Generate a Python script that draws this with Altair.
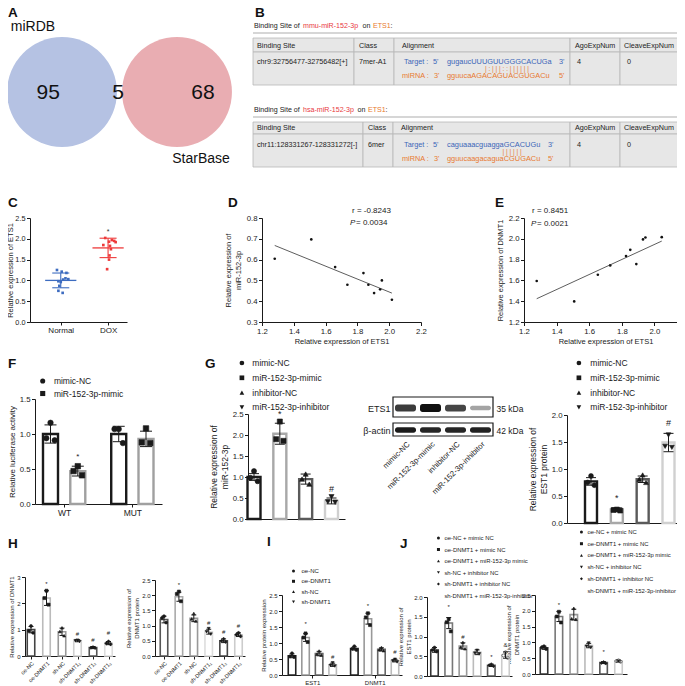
import altair as alt
import pandas as pd

# ------------------------------------------------------------------ data
venn_sets = ["miRDB", "StarBase"]
venn_counts = [95, 5, 68]          # miRDB only, shared, StarBase only

b_mirnas = ["mmu-miR-152-3p", "hsa-miR-152-3p"]
b_gene = "ETS1"
b_headers = ["Binding Site", "Class", "Alignment", "AgoExpNum", "CleaveExpNum"]
b_sites = ["chr9:32756477-32756482[+]", "chr11:128331267-128331272[-]"]
b_classes = ["7mer-A1", "6mer"]
b_targets = ["gugaucUUUGUUGGGCACUGa", "caguaaacguaggaGCACUGu"]
b_mirseqs = ["gguucaAGACAGUACGUGACu", "gguucaagacaguaCGUGACu"]
b_pairs = ["|  :  |  |  |  :  :      |  |  |  |  |  |", "|  |  |  |  |  |"]
b_ago = ["4", "4"]
b_cleave = ["0", "0"]

c_groups = ["Normal", "DOX"]
c_normal = [1.25, 1.21, 1.18, 1.05, 1.03, 1.02, 0.98, 0.96, 0.87, 0.75, 0.70]
c_normal_dx = [-0.08, 0.02, 0.12, 0.10, 0.16, 0.05, -0.05, 0.0, -0.03, -0.05, 0.04]
c_dox = [2.02, 1.97, 1.95, 1.93, 1.92, 1.85, 1.83, 1.75, 1.60, 1.50, 1.27]
c_dox_dx = [-0.06, 0.08, 0.13, 0.02, 0.16, -0.10, 0.04, 0.06, 0.03, 0.02, -0.02]
c_sig = ["", "*"]
c_sig_y = [0, 2.17]

d_ets1 = [1.28, 1.51, 1.66, 1.737, 1.838, 1.869, 1.905, 1.943, 1.954, 2.017]
d_mir = [0.604, 0.697, 0.564, 0.479, 0.535, 0.479, 0.439, 0.457, 0.500, 0.407]
d_fit_x = [1.28, 2.017]
d_fit_y = [0.668, 0.439]
d_stats = ["r = -0.8243", "= 0.0034"]

e_ets1 = [1.278, 1.508, 1.653, 1.729, 1.826, 1.852, 1.889, 1.930, 1.945, 2.045]
e_dnmt1 = [1.594, 1.398, 1.654, 1.744, 1.834, 1.894, 1.757, 1.994, 2.013, 2.016]
e_fit_x = [1.278, 2.045]
e_fit_y = [1.424, 1.978]
e_stats = ["r = 0.8451", "= 0.0021"]

f_series = ["mimic-NC", "miR-152-3p-mimic"]
f_groups = ["WT", "MUT"]
f_means = [1.00, 0.47, 1.00, 0.93]
f_sds = [0.13, 0.07, 0.11, 0.11]
f_points = [[1.16, 0.94, 0.91], [0.54, 0.47, 0.41], [1.07, 1.07, 0.87], [1.08, 0.88, 0.87]]
f_sig = ["", "*", "", ""]
f_sig_y = [0, 0.67, 0, 0]

g_series = ["mimic-NC", "miR-152-3p-mimic", "inhibitor-NC", "miR-152-3p-inhibitor"]
g1_means = [1.00, 2.03, 0.95, 0.43]
g1_sds = [0.08, 0.25, 0.12, 0.07]
g1_points = [[1.14, 0.98, 0.90], [2.32, 1.90, 1.86], [1.07, 0.95, 0.83], [0.53, 0.41, 0.40]]
g1_sig = ["", "*", "", "#"]
g1_sig_y = [0, 2.50, 0, 0.71]
g2_means = [0.77, 0.25, 0.81, 1.49]
g2_sds = [0.07, 0.03, 0.06, 0.17]
g2_points = [[0.87, 0.75, 0.70], [0.25, 0.24, 0.23], [0.89, 0.81, 0.75], [1.63, 1.42, 1.40]]
g2_sig = ["", "*", "", "#"]
g2_sig_y = [0, 0.46, 0, 1.85]

blot_lanes = ["mimic-NC", "miR-152-3p-mimic", "inhibitor-NC", "miR-152-3p-inhibitor"]
blot_proteins = ["ETS1", "β-actin"]
blot_kda = ["35 kDa", "42 kDa"]
blot_ets1 = [0.80, 1.00, 0.75, 0.30]
blot_actin = [0.95, 0.90, 0.90, 0.92]

h_groups = ["oe-NC", "oe-DNMT1", "sh-NC", "sh-DNMT1₁", "sh-DNMT1₂", "sh-DNMT1₃"]
h1_means = [1.00, 2.20, 0.92, 0.58, 0.32, 0.49]
h1_sds = [0.12, 0.28, 0.14, 0.04, 0.04, 0.06]
h1_points = [[1.14, 0.95, 0.88], [2.48, 2.20, 1.95], [1.07, 0.93, 0.77],
             [0.60, 0.58, 0.55], [0.34, 0.31, 0.30], [0.55, 0.48, 0.45]]
h1_sig = ["", "*", "", "#", "#", "#"]
h1_sig_y = [0, 2.72, 0, 0.84, 0.60, 0.87]
h2_means = [1.20, 1.95, 1.24, 0.80, 0.50, 0.70]
h2_sds = [0.11, 0.15, 0.11, 0.08, 0.06, 0.06]
h2_points = [[1.31, 1.25, 1.10], [2.12, 2.04, 1.80], [1.40, 1.22, 1.15],
             [0.90, 0.80, 0.72], [0.57, 0.50, 0.46], [0.76, 0.70, 0.65]]
h2_sig = ["", "*", "", "#", "#", "#"]
h2_sig_y = [0, 2.33, 0, 1.07, 0.80, 1.00]

i_series = ["oe-NC", "oe-DNMT1", "sh-NC", "sh-DNMT1"]
i_genes = ["EST1", "DNMT1"]
i_means = [0.60, 1.17, 0.67, 0.32, 0.83, 1.76, 0.80, 0.45]
i_sds = [0.06, 0.12, 0.07, 0.05, 0.05, 0.17, 0.05, 0.04]
i_points = [[0.68, 0.58, 0.56], [1.30, 1.17, 1.03], [0.75, 0.65, 0.62], [0.38, 0.30, 0.28],
            [0.90, 0.82, 0.78], [1.93, 1.80, 1.56], [0.86, 0.79, 0.76], [0.49, 0.44, 0.41]]
i_sig = ["", "*", "", "#", "", "*", "", "#"]
i_sig_y = [0, 1.60, 0, 0.55, 0, 2.15, 0, 0.73]

j_series = ["oe-NC + mimic NC", "oe-DNMT1 + mimic NC", "oe-DNMT1 + miR-152-3p mimic",
            "sh-NC + inhibitor NC", "sh-DNMT1 + inhibitor NC", "sh-DNMT1 + miR-152-3p-inhibitor"]
j1_means = [0.66, 1.34, 0.76, 0.60, 0.27, 0.53]
j1_sds = [0.06, 0.14, 0.08, 0.06, 0.03, 0.08]
j1_points = [[0.72, 0.66, 0.62], [1.44, 1.36, 1.13], [0.85, 0.73, 0.69],
             [0.65, 0.58, 0.56], [0.30, 0.27, 0.25], [0.60, 0.52, 0.46]]
j1_sig = ["", "*", "#", "", "*", "&"]
j1_sig_y = [0, 1.74, 1.00, 0, 0.47, 0.78]
j2_means = [0.83, 1.82, 1.88, 0.90, 0.36, 0.41]
j2_sds = [0.05, 0.16, 0.17, 0.07, 0.03, 0.03]
j2_points = [[0.88, 0.85, 0.79], [1.97, 1.82, 1.63], [2.08, 1.75, 1.73],
             [0.98, 0.88, 0.84], [0.38, 0.35, 0.33], [0.43, 0.41, 0.39]]
j2_sig = ["", "*", "", "", "*", ""]
j2_sig_y = [0, 2.19, 0, 0, 0.70, 0]

# ------------------------------------------------------------------ layout helpers
W, H = 669, 678
O = 8
FONT = "Liberation Sans"
INK = "#1a1a1a"
RED = "#e8393f"
ORANGE = "#e87a30"
BLUE = "#3b66b8"


def PX(v):
    return v - O


def PY(v):
    return v - O


layers = []


def sx(dom, a, b):
    return alt.Scale(domain=[float(d) for d in dom], range=[PX(a), PX(b)], nice=False, zero=False)


def sy(dom, bot, top):
    return alt.Scale(domain=[float(d) for d in dom], range=[PY(bot), PY(top)], nice=False, zero=False)


AXC = dict(grid=False, domainColor=INK, tickColor=INK, labelColor=INK, titleColor=INK,
           labelFont=FONT, titleFont=FONT, titleFontWeight="normal", domainWidth=1,
           tickWidth=1, labelFlush=False, labelOverlap=False)


def label_expr(vals, labels):
    expr = "''"
    for v, l in reversed(list(zip(vals, labels))):
        expr = f"(abs(datum.value - {v}) < 0.001) ? '{l}' : ({expr})"
    return expr


def y_axis(xpos, values, fmt, title, lfs, tfs, tick=3.5, tpad=3, orient="left",
           labels=None, show_ticks=True, domain=True, lpad=1.5):
    off = -PX(xpos) if orient == "left" else PX(xpos) - W
    kw = dict(orient=orient, offset=off, values=values, title=title,
              labelFontSize=lfs, titleFontSize=tfs, tickSize=tick, labelPadding=lpad,
              titlePadding=tpad, ticks=show_ticks, domain=domain, **AXC)
    if fmt:
        kw["format"] = fmt
    if labels is not None:
        kw["labelExpr"] = label_expr(values, labels)
    return alt.Axis(**kw)


def x_axis(ypos, values=None, labels=None, fmt=None, title=None, lfs=7, tfs=7, angle=0,
           tick=3.5, show_ticks=True, show_labels=True, domain=True, lpad=1.5, tpad=2):
    kw = dict(orient="bottom", offset=PY(ypos) - H, title=title, labelFontSize=lfs,
              titleFontSize=tfs, tickSize=tick, labelPadding=lpad, titlePadding=tpad,
              ticks=show_ticks, labels=show_labels, domain=domain, labelAngle=angle, **AXC)
    if values is not None:
        kw["values"] = values
    if labels is not None:
        kw["labelExpr"] = label_expr(values, labels)
    if fmt:
        kw["format"] = fmt
    if angle != 0:
        kw.update(labelAlign="right", labelBaseline="top")
    return alt.Axis(**kw)


def text_layer(items, size, color=INK, align="left", weight="normal", style="normal",
               baseline="middle"):
    df = pd.DataFrame(items, columns=["t", "x", "y"])
    df["x"] = df["x"].map(PX)
    df["y"] = df["y"].map(PY)
    return alt.Chart(df).mark_text(font=FONT, fontSize=size, color=color, align=align,
                                   baseline=baseline, fontWeight=weight, fontStyle=style).encode(
        x=alt.X("x:Q", scale=None, axis=None), y=alt.Y("y:Q", scale=None, axis=None), text="t:N")


def make_legend(mx, y0, step, fs, ssize, tx, fill=True):
    d = ssize ** 0.5
    entry = max(d, fs)
    kw = dict(title=None, orient="none", direction="vertical",
              legendX=PX(mx) - d / 2, legendY=PY(y0) - entry / 2,
              labelFontSize=fs, labelFont=FONT, labelColor=INK,
              symbolSize=ssize, rowPadding=max(step - entry, 0),
              labelOffset=max(tx - mx - d / 2 - 3.5, 0), padding=0,
              symbolStrokeColor=INK, symbolStrokeWidth=0.6, labelLimit=300)
    if fill:
        kw["symbolFillColor"] = INK
    return alt.Legend(**kw)


def bar_panel(xr, ybot, ytop, ymax, yticks, yfmt, slots, c_first, c_last, bar_px,
              means, sds, pts, colors, series, leg_dom, leg_shapes, sig, sig_y,
              ytitle, lfs, tfs, sw, psize, cap_px, sig_fs, leg=None, leg_fills=None,
              xticks=None, xlabels=None, xangle=0, xlfs=6, tpad=3):
    x0, x1 = xr
    unit = (c_last - c_first) / (slots[-1] - slots[0])
    dom = [slots[0] - (c_first - x0) / unit, slots[-1] + (x1 - c_last) / unit]
    xs = sx(dom, x0, x1)
    ys = sy([0, ymax], ybot, ytop)
    hw = bar_px / 2 / unit
    cw = cap_px / 2 / unit
    df = pd.DataFrame({"series": series, "pos": slots, "mean": means, "sd": sds,
                       "col": colors, "sig": sig, "sy": sig_y})
    df["l"] = df["pos"] - hw
    df["r"] = df["pos"] + hw
    df["lo"] = df["mean"] - df["sd"]
    df["hi"] = df["mean"] + df["sd"]
    df["cl"] = df["pos"] - cw
    df["cr"] = df["pos"] + cw
    df["base"] = 0.0
    if xticks is None:
        xa = x_axis(ybot, show_ticks=False, show_labels=False)
    else:
        xa = x_axis(ybot, values=xticks, labels=xlabels, lfs=xlfs, angle=xangle, tick=3)
    ya = y_axis(x0, yticks, yfmt, ytitle, lfs, tfs, tpad=tpad)
    out = []
    out.append(alt.Chart(df).mark_bar(fill="white", strokeWidth=sw).encode(
        x=alt.X("l:Q", scale=xs, axis=xa), x2="r:Q",
        y=alt.Y("mean:Q", scale=ys, axis=ya), y2="base:Q",
        stroke=alt.Stroke("col:N", scale=None)))
    offs = [0.0, -0.28, 0.28]
    rows = []
    for s, p, vals in zip(series, slots, pts):
        for k, v in enumerate(vals):
            rows.append({"series": s, "x": p + offs[k % 3] * bar_px / unit, "v": v})
    pdf = pd.DataFrame(rows)
    enc = dict(x=alt.X("x:Q", scale=xs, axis=None), y=alt.Y("v:Q", scale=ys, axis=None),
               shape=alt.Shape("series:N", scale=alt.Scale(domain=leg_dom, range=leg_shapes),
                               legend=leg))
    if leg_fills:
        enc["fill"] = alt.Fill("series:N", scale=alt.Scale(domain=leg_dom, range=leg_fills),
                               legend=leg)
    out.append(alt.Chart(pdf).mark_point(filled=True, size=psize, color=INK, stroke=INK,
                                         strokeWidth=0.6, opacity=1).encode(**enc))
    out.append(alt.Chart(df).mark_rule(color=INK, strokeWidth=1).encode(
        x=alt.X("pos:Q", scale=xs, axis=None), y=alt.Y("lo:Q", scale=ys, axis=None), y2="hi:Q"))
    caps = pd.concat([df.assign(cy=df["lo"]), df.assign(cy=df["hi"])])
    out.append(alt.Chart(caps).mark_rule(color=INK, strokeWidth=1).encode(
        x=alt.X("cl:Q", scale=xs, axis=None), x2="cr:Q", y=alt.Y("cy:Q", scale=ys, axis=None)))
    out.append(alt.Chart(df).mark_text(fontSize=sig_fs, font=FONT, color=INK,
                                       baseline="middle").encode(
        x=alt.X("pos:Q", scale=xs, axis=None), y=alt.Y("sy:Q", scale=ys, axis=None),
        text="sig:N"))
    return out


# ------------------------------------------------------------------ A: Venn
vx = sx([0, 1], 62, 177)
venn_df = pd.DataFrame({"set": venn_sets, "pos": [0, 1], "op": [1.0, 0.72]})
layers.append(alt.Chart(venn_df).mark_circle(size=3.1416 * 62 ** 2).encode(
    x=alt.X("pos:Q", scale=vx, axis=None), y=alt.value(PY(92)),
    color=alt.Color("set:N", scale=alt.Scale(domain=venn_sets, range=["#b5c2e3", "#e08d94"]),
                    legend=None),
    opacity=alt.Opacity("op:Q", scale=None)))
venn_txt = pd.DataFrame({"t": [str(v) for v in venn_counts], "pos": [-0.12, 0.487, 1.226]})
layers.append(alt.Chart(venn_txt).mark_text(font=FONT, fontSize=21, color="#111").encode(
    x=alt.X("pos:Q", scale=vx, axis=None), y=alt.value(PY(93)), text="t:N"))
layers.append(text_layer([(venn_sets[0], 33, 27), (venn_sets[1], 201, 159)], 14, "#111",
                         align="center"))

# ------------------------------------------------------------------ B: tables
def table_cells(cols, top, hb, bot):
    rows = []
    for i in range(len(cols) - 1):
        rows.append(dict(x=PX(cols[i]), x2=PX(cols[i + 1]), y=PY(top), y2=PY(hb)))
        rows.append(dict(x=PX(cols[i]), x2=PX(cols[i + 1]), y=PY(hb), y2=PY(bot)))
    df = pd.DataFrame(rows)
    return alt.Chart(df).mark_rect(fill="#e7e7e7", stroke="#b8b8b8", strokeWidth=0.8).encode(
        x=alt.X("x:Q", scale=None, axis=None), x2="x2:Q",
        y=alt.Y("y:Q", scale=None, axis=None), y2="y2:Q")


rule_df = pd.DataFrame({"x": [PX(253), PX(253)], "x2": [PX(682), PX(682)], "y": [PY(33), PY(117)]})
layers.append(alt.Chart(rule_df).mark_rule(color="#d6d6d6", strokeWidth=2).encode(
    x=alt.X("x:Q", scale=None, axis=None), x2="x2:Q", y=alt.Y("y:Q", scale=None, axis=None)))

tables = [
    dict(cols=[253, 354, 394, 570, 620, 682], top=38, hb=52, bot=85, ty=26, hy=46,
         r1=62, r2=76, py=69, px=507, end=559, mir_x=303, on_x=362.5, gene_x=373, colon_x=390.5),
    dict(cols=[253, 363, 393, 570, 620, 682], top=122, hb=134, bot=167, ty=110, hy=128,
         r1=145, r2=159, py=152, px=512, end=548, mir_x=303, on_x=357.5, gene_x=368, colon_x=385.5),
]
black_items, red_items, orange_items, blue_items, head_items, small_items = [], [], [], [], [], []
for k, t in enumerate(tables):
    layers.append(table_cells(t["cols"], t["top"], t["hb"], t["bot"]))
    black_items += [("Binding Site of", 254, t["ty"]), ("on", t["on_x"], t["ty"]),
                    (":", t["colon_x"], t["ty"])]
    red_items.append((b_mirnas[k], t["mir_x"], t["ty"]))
    c = t["cols"]
    for h, x in zip(b_headers, [c[0] + 4, c[1] + 5, c[2] + 8, c[3] + 5, c[4] + 4]):
        head_items.append((h, x, t["hy"]))
    head_items += [(b_sites[k], c[0] + 4, t["r1"]), (b_classes[k], c[1] + 5, t["r1"]),
                   (b_ago[k], c[3] + 7, t["r1"]), (b_cleave[k], c[4] + 7, t["r1"])]
    blue_items += [("Target :", 404, t["r1"]), ("5'", 433, t["r1"]), ("3'", t["end"], t["r1"])]
    orange_items += [("miRNA :", 402, t["r2"]), ("3'", 434, t["r2"]), ("5'", t["end"], t["r2"])]
    small_items.append((b_pairs[k], t["px"], t["py"]))
layers.append(text_layer(black_items, 7.1, "#222"))
layers.append(text_layer(red_items, 7.1, RED))
layers.append(text_layer([(b_gene, t["gene_x"], t["ty"]) for t in tables], 7.1, ORANGE))
layers.append(text_layer(head_items, 7.2, "#222"))
layers.append(text_layer(blue_items, 7.3, BLUE))
layers.append(text_layer(orange_items, 7.3, ORANGE))
layers.append(text_layer([(b_targets[k], 447, t["r1"]) for k, t in enumerate(tables)], 7.4, BLUE))
layers.append(text_layer([(b_mirseqs[k], 447, t["r2"]) for k, t in enumerate(tables)], 7.4, ORANGE))
layers.append(text_layer(small_items, 6.5, ORANGE, align="center"))

# ------------------------------------------------------------------ C
cxs = sx([0.35, 2.4], 30, 127)
cys = sy([0, 2.5], 322, 218)
c_cols = ["#3d6cc0", "#ee3a3a"]
c_pts = pd.DataFrame({
    "g": [c_groups[0]] * len(c_normal) + [c_groups[1]] * len(c_dox),
    "x": [1 + d for d in c_normal_dx] + [2 + d for d in c_dox_dx],
    "v": c_normal + c_dox})
c_stat = c_pts.groupby("g", sort=False)["v"].agg(["mean", "std"]).reset_index()
c_stat["idx"] = [1.0, 2.0]
c_stat["lo"] = c_stat["mean"] - c_stat["std"]
c_stat["hi"] = c_stat["mean"] + c_stat["std"]
c_stat["ml"] = c_stat["idx"] - 0.33
c_stat["mr"] = c_stat["idx"] + 0.33
c_stat["cl"] = c_stat["idx"] - 0.18
c_stat["cr"] = c_stat["idx"] + 0.18
c_stat["sig"] = c_sig
c_stat["sy"] = c_sig_y
ccol = alt.Color("g:N", scale=alt.Scale(domain=c_groups, range=c_cols), legend=None)
layers.append(alt.Chart(c_pts).mark_square(size=7, opacity=1).encode(
    x=alt.X("x:Q", scale=cxs, axis=x_axis(322, values=[1, 2], labels=c_groups, lfs=8, tick=3)),
    y=alt.Y("v:Q", scale=cys, axis=y_axis(30, [0, 0.5, 1, 1.5, 2, 2.5], ".1f",
                                            "Relative expression of ETS1", 7.3, 7.5, tpad=0.5)),
    color=ccol))
layers.append(alt.Chart(c_stat).mark_rule(strokeWidth=1.3).encode(
    x=alt.X("ml:Q", scale=cxs, axis=None), x2="mr:Q", y=alt.Y("mean:Q", scale=cys, axis=None),
    color=ccol))
layers.append(alt.Chart(c_stat).mark_rule(strokeWidth=1.1).encode(
    x=alt.X("idx:Q", scale=cxs, axis=None), y=alt.Y("lo:Q", scale=cys, axis=None), y2="hi:Q",
    color=ccol))
c_caps = pd.concat([c_stat.assign(cy=c_stat["lo"]), c_stat.assign(cy=c_stat["hi"])])
layers.append(alt.Chart(c_caps).mark_rule(strokeWidth=1.1).encode(
    x=alt.X("cl:Q", scale=cxs, axis=None), x2="cr:Q", y=alt.Y("cy:Q", scale=cys, axis=None),
    color=ccol))
layers.append(alt.Chart(c_stat).mark_text(font=FONT, fontSize=7, color="#333").encode(
    x=alt.X("idx:Q", scale=cxs, axis=None), y=alt.Y("sy:Q", scale=cys, axis=None), text="sig:N"))


# ------------------------------------------------------------------ D, E scatter
def scatter(xv, yv, fx, fy, xr, yb, yt, xdom, ydom, yticks, ytitle):
    xs = sx(xdom, xr[0], xr[1])
    ys = sy(ydom, yb, yt)
    df = pd.DataFrame({"x": xv, "y": yv})
    fit = pd.DataFrame({"x": fx, "y": fy})
    out = [alt.Chart(df).mark_circle(size=7, color="#111", opacity=1).encode(
        x=alt.X("x:Q", scale=xs, axis=x_axis(yb, values=[1.2, 1.4, 1.6, 1.8, 2.0, 2.2], fmt=".1f",
                                             title="Relative expression of ETS1", lfs=7.8,
                                             tfs=7.5, tick=3.5, tpad=3)),
        y=alt.Y("y:Q", scale=ys, axis=y_axis(xr[0], yticks, ".1f", ytitle, 7.8, 7.5, tpad=4)))]
    out.append(alt.Chart(fit).mark_line(color="#333", strokeWidth=0.8).encode(
        x=alt.X("x:Q", scale=xs, axis=None), y=alt.Y("y:Q", scale=ys, axis=None)))
    return out


layers += scatter(d_ets1, d_mir, d_fit_x, d_fit_y, (262, 421), 322, 218, [1.2, 2.2], [0.3, 0.8],
                  [0.3, 0.4, 0.5, 0.6, 0.7, 0.8], ["Relative expression of", "miR-152-3p"])
layers += scatter(e_ets1, e_dnmt1, e_fit_x, e_fit_y, (524, 687), 322, 218, [1.2, 2.2], [1.2, 2.2],
                  [1.2, 1.4, 1.6, 1.8, 2.0, 2.2], "Relative expression of DNMT1")
layers.append(text_layer([(d_stats[0], 352, 211), (d_stats[1], 356, 223),
                          (e_stats[0], 532, 211), (e_stats[1], 537, 224)], 8, "#222"))
layers.append(text_layer([("P", 350, 223), ("P", 531, 224)], 8, "#222", style="italic"))

# ------------------------------------------------------------------ F
layers += bar_panel((35, 162), 504, 399, 1.5, [0, 0.5, 1.0, 1.5], ".1f", [1, 2, 3.5, 4.5], 50.5, 146,
                    15, f_means, f_sds, f_points, ["#1a1a1a", "#a0a0a0", "#1a1a1a", "#a0a0a0"],
                    [f_series[0], f_series[1], f_series[0], f_series[1]], f_series,
                    ["circle", "square"], f_sig, f_sig_y, "Relative luciferase activity", 7.8, 8,
                    2.4, 30, 12, 8, leg=make_legend(41, 381, 12, 8.5, 26, 54),
                    xticks=[1.5, 4.0], xlabels=f_groups, xlfs=8.5)

# ------------------------------------------------------------------ G left
g_cols = ["#1a1a1a", "#a8a8a8", "#5a5a5a", "#d0d0d0"]
g_shapes = ["circle", "square", "triangle-up", "triangle-down"]
layers += bar_panel((248, 345), 519, 414, 2.5, [0, 0.5, 1.0, 1.5, 2.0, 2.5], ".1f", [1, 2, 3, 4],
                    254, 331.5, 13, g1_means, g1_sds, g1_points, g_cols, g_series, g_series,
                    g_shapes, g1_sig, g1_sig_y, ["Relative  expression of", "miR-152-3p"], 7.8, 8.5,
                    2.4, 26, 10, 9, leg=make_legend(240, 363, 14.3, 8.5, 22, 252))

# ------------------------------------------------------------------ G blot
bx = sx([0.5, 4.5], 393, 493)
by = sy([0, 1], 438, 396)
box_df = pd.DataFrame({"protein": blot_proteins, "lo": [0.5, 0.048], "hi": [0.976, 0.357],
                       "x0": [0.5, 0.5], "x1": [4.5, 4.5]})
prot_axis = y_axis(393, [0.714, 0.19], None, None, 9, 9, labels=blot_proteins, show_ticks=False,
                   domain=False, lpad=3)
lane_axis = x_axis(438, values=[1, 2, 3, 4], labels=blot_lanes, lfs=7.8, angle=-45,
                   show_ticks=False, domain=False, lpad=2)
layers.append(alt.Chart(box_df).mark_rect(fill="white", stroke=INK, strokeWidth=1.2).encode(
    x=alt.X("x0:Q", scale=bx, axis=lane_axis), x2="x1:Q",
    y=alt.Y("lo:Q", scale=by, axis=prot_axis), y2="hi:Q"))
band_rows = []
for lane, (a, b) in enumerate(zip(blot_ets1, blot_actin), start=1):
    th = (3 + 5 * a) / 42 / 2
    band_rows.append({"lane": lane, "l": lane - 0.42, "r": lane + 0.42, "b": 0.714 - th,
                      "t": 0.714 + th, "int": a})
    th2 = 5.5 / 42 / 2
    band_rows.append({"lane": lane, "l": lane - 0.42, "r": lane + 0.42, "b": 0.19 - th2,
                      "t": 0.19 + th2, "int": b})
band_df = pd.DataFrame(band_rows)
kda_axis = y_axis(493, [0.714, 0.19], None, None, 8.5, 8.5, orient="right", labels=blot_kda,
                  show_ticks=False, domain=False, lpad=3)
layers.append(alt.Chart(band_df).mark_rect(cornerRadius=2.5, color="#111").encode(
    x=alt.X("l:Q", scale=bx, axis=None), x2="r:Q",
    y=alt.Y("b:Q", scale=by, axis=kda_axis), y2="t:Q",
    opacity=alt.Opacity("int:Q", scale=alt.Scale(domain=[0, 1], range=[0.12, 1]), legend=None)))

# ------------------------------------------------------------------ G right
layers += bar_panel((567, 682), 523, 415, 2.0, [0, 0.5, 1.0, 1.5, 2.0], ".1f", [1, 2, 3, 4],
                    591, 668.5, 12, g2_means, g2_sds, g2_points, g_cols, g_series, g_series,
                    g_shapes, g2_sig, g2_sig_y, ["Relative expression of", "EST1 protein"], 7.8, 8.5,
                    2.4, 24, 10, 9, leg=make_legend(577, 363, 14.3, 8.5, 22, 590))

# ------------------------------------------------------------------ H
h_shapes = ["circle", "square", "triangle-up", "triangle-down", "diamond", "cross"]
layers += bar_panel((25, 115), 656, 577, 3, [0, 1, 2, 3], "d", [1, 2, 3, 4, 5, 6], 31, 108.5, 7.5,
                    h1_means, h1_sds, h1_points, ["#444", "#bbb", "#999", "#d0d0d0", "#555", "#ddd"],
                    h_groups, h_groups, h_shapes, h1_sig, h1_sig_y, "Relative expression of DNMT1",
                    6, 6, 1.6, 9, 5, 6, xticks=[1, 2, 3, 4, 5, 6], xlabels=h_groups, xangle=-45,
                    xlfs=5.5, tpad=2)
layers += bar_panel((155, 245), 656, 580, 2.5, [0, 0.5, 1.0, 1.5, 2.0, 2.5], ".1f",
                    [1, 2, 3, 4, 5, 6], 164, 238.5, 7.5,
                    h2_means, h2_sds, h2_points, ["#555", "#aaa", "#999", "#ddd", "#444", "#ccc"],
                    h_groups, h_groups, h_shapes, h2_sig, h2_sig_y,
                    ["Relative expression of", "DNMT1 protein"],
                    6, 6, 1.6, 9, 5, 6, xticks=[1, 2, 3, 4, 5, 6], xlabels=h_groups, xangle=-45,
                    xlfs=5.5, tpad=2)

# ------------------------------------------------------------------ I
i_slots = [1, 2, 3, 4, 5.6, 6.6, 7.6, 8.6]
layers += bar_panel((282, 402), 675, 595, 2.5, [0, 0.5, 1.0, 1.5, 2.0, 2.5], ".1f", i_slots, 292, 395,
                    7.5, i_means, i_sds, i_points, ["#222", "#999", "#666", "#bbb"] * 2,
                    i_series * 2, i_series, g_shapes, i_sig, i_sig_y, "Relative protein expression",
                    6, 6, 1.6, 9, 5, 6, leg=make_legend(292, 571, 10.3, 6, 9, 302),
                    xticks=[2.5, 7.1], xlabels=i_genes, xlfs=6, tpad=2)

# ------------------------------------------------------------------ J
j_shapes = ["circle", "square", "triangle-up", "triangle-down", "diamond", "circle"]
j_fills = [INK, INK, INK, INK, INK, "white"]
j_cols = ["#333", "#777", "#999", "#bbb", "#555", "#ccc"]
layers += bar_panel((427, 512), 676, 597, 2.0, [0, 0.5, 1.0, 1.5, 2.0], ".1f", [1, 2, 3, 4, 5, 6],
                    434.5, 505.5, 7.5, j1_means, j1_sds, j1_points, j_cols, j_series, j_series,
                    j_shapes, j1_sig, j1_sig_y, ["Relative expression of", "EST1 protein"],
                    6, 6, 1.6, 9, 5, 6, leg=make_legend(437, 538, 10.4, 5.9, 9, 445, fill=False),
                    leg_fills=j_fills, tpad=2)
layers += bar_panel((535, 627), 674, 595, 2.5, [0, 0.5, 1.0, 1.5, 2.0, 2.5], ".1f",
                    [1, 2, 3, 4, 5, 6], 544, 618.5, 7.5, j2_means, j2_sds, j2_points, j_cols,
                    j_series, j_series, j_shapes, j2_sig, j2_sig_y,
                    ["Relative expression of", "DNMT1 protein"],
                    6, 6, 1.6, 9, 5, 6, leg=make_legend(580, 532, 10.6, 5.9, 9, 588, fill=False),
                    leg_fills=j_fills, tpad=2)

# ------------------------------------------------------------------ panel letters
layers.append(text_layer([("A", 8, 13), ("B", 255, 13), ("C", 8, 203), ("D", 228, 203),
                          ("E", 495, 203), ("F", 8, 364), ("G", 205, 364), ("H", 8, 544),
                          ("I", 267, 542), ("J", 400, 544)], 13.5, "#111", weight="bold"))

chart = alt.layer(*layers).resolve_scale(
    x="independent", y="independent", color="independent", shape="independent",
    fill="independent", stroke="independent", opacity="independent"
).resolve_axis(x="independent", y="independent").resolve_legend(
    shape="independent", fill="independent", color="independent"
).properties(
    width=W, height=H, padding=0, autosize=alt.AutoSizeParams(type="none")
).configure_view(stroke=None)

chart.save("out.html", embed_options={"renderer": "svg", "actions": False})
